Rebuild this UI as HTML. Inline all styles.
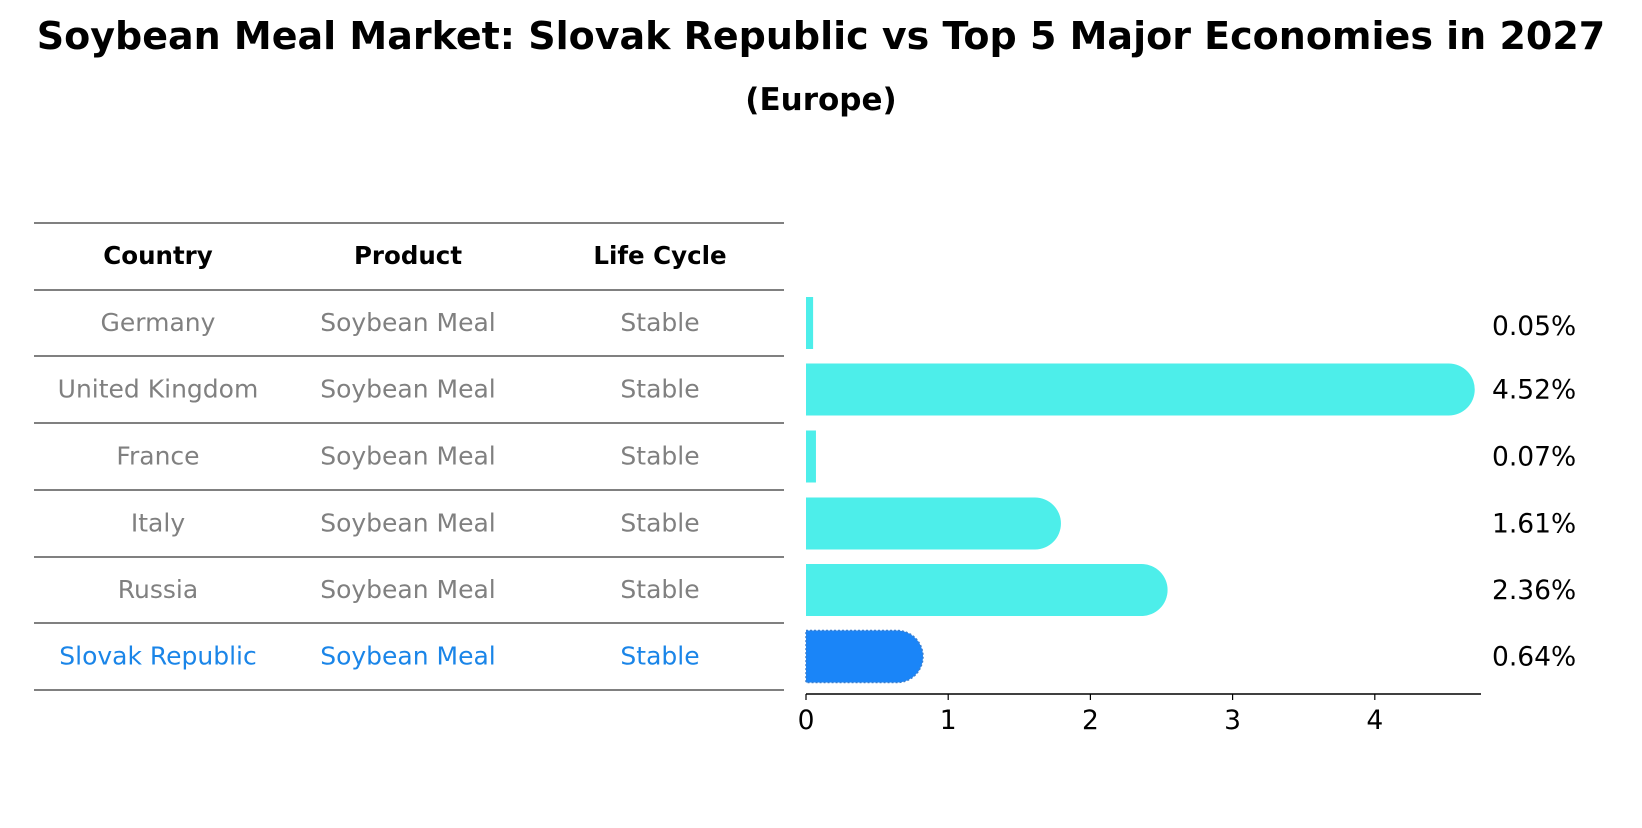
<!DOCTYPE html>
<html><head><meta charset="utf-8"><style>
body{margin:0;background:#fff;font-family:"Liberation Sans","DejaVu Sans",sans-serif;}
</style></head><body>
<svg width="1642" height="823" xmlns="http://www.w3.org/2000/svg" style="font-family:'DejaVu Sans','Liberation Sans',sans-serif">
<text x="821" y="49" text-anchor="middle" font-size="38" font-weight="bold">Soybean Meal Market: Slovak Republic vs Top 5 Major Economies in 2027</text>
<text x="821" y="110" text-anchor="middle" font-size="31" font-weight="bold">(Europe)</text>
<g id="table"></g>
<g id="bars"></g>
</svg>
<script>
const countries=["Germany","United Kingdom","France","Italy","Russia","Slovak Republic"];
const products=["Soybean Meal","Soybean Meal","Soybean Meal","Soybean Meal","Soybean Meal","Soybean Meal"];
const lifeCycles=["Stable","Stable","Stable","Stable","Stable","Stable"];
const values=[0.05,4.52,0.07,1.61,2.36,0.64];
const ticks=[0,1,2,3,4];
const NS="http://www.w3.org/2000/svg";
function mk(tag,attrs,parent){const e=document.createElementNS(NS,tag);for(const k in attrs)e.setAttribute(k,attrs[k]);parent.appendChild(e);return e;}
const tbl=document.getElementById('table');
const lineYs=[223,290,356,423,490,557,623,690];
const colX=[158,408,660];
const rowCenter=i=>(lineYs[i+1]+lineYs[i+2])/2;
lineYs.forEach((y,i)=>{const l=mk('line',{x1:34,x2:784,y1:y,y2:y,stroke:'#000','stroke-width':1},tbl);

});
["Country","Product","Life Cycle"].forEach((h,j)=>{const t=mk('text',{x:colX[j],y:264,'text-anchor':'middle','font-size':24.5,'font-weight':'bold'},tbl);t.textContent=h;

});
countries.forEach((c,i)=>{const col=i===countries.length-1?'#1a85e8':'#808080';
[c,products[i],lifeCycles[i]].forEach((v,j)=>{const t=mk('text',{x:colX[j],y:rowCenter(i)+8,'text-anchor':'middle','font-size':25,fill:col},tbl);t.textContent=v;

});});
const g=document.getElementById('bars');
const x0=806,unit=142.2,axisY=694;
const xs=v=>x0+v*unit;
const bh=52;
values.forEach((v,i)=>{const cy=rowCenter(i);const last=i===values.length-1;const col=last?'#1a85f8':'#4deeea';
const w=xs(v)-x0;const r=bh/2;
let d;
if(w<r){d=`M${x0},${cy-r}h${Math.max(w,6)}v${bh}h${-Math.max(w,6)}z`;}
else d=`M${x0},${cy-r}h${w}a${r},${r} 0 0 1 0,${bh}h${-w}z`;
const p=mk('path',{d:d,fill:col},g);
if(last){p.setAttribute('stroke','#3a7fd0');p.setAttribute('stroke-dasharray','2,2');p.setAttribute('stroke-width','1.5');}


const t=mk('text',{x:1492,y:cy+9+(i===0?3:0),'font-size':26.5},g);t.textContent=v.toFixed(2)+'%';

});
const ax=mk('line',{x1:x0,x2:1481,y1:axisY,y2:axisY,stroke:'#000','stroke-width':1.5},g);


ticks.forEach(tv=>{const l=mk('line',{x1:xs(tv),x2:xs(tv),y1:axisY,y2:axisY+6,stroke:'#000','stroke-width':1.2},g);


const t=mk('text',{x:xs(tv),y:axisY+35,'text-anchor':'middle','font-size':26.5},g);t.textContent=tv;

});
</script>
</body></html>
